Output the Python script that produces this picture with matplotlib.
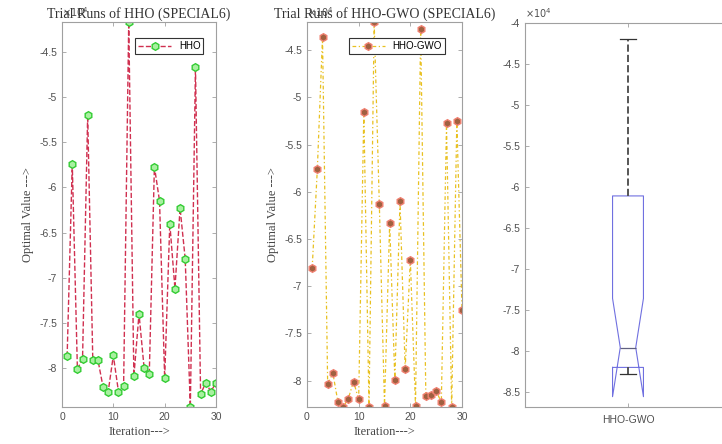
import matplotlib
matplotlib.use("Agg")
import matplotlib.pyplot as plt
from matplotlib.ticker import FuncFormatter
import numpy as np

# ---------------- data (values in units of 1e4, scaled below) ----------------
iterations = list(range(1, 31))
hho_vals = [-7.87, -5.74, -8.01, -7.90, -5.20, -7.91, -7.91, -8.21, -8.26, -7.86,
            -8.26, -8.20, -4.17, -8.09, -7.40, -8.00, -8.07, -5.77, -6.15, -8.11,
            -6.40, -7.12, -6.23, -6.79, -8.43, -4.67, -8.29, -8.16, -8.26, -8.16]
hhogwo_vals = [-6.81, -5.76, -4.36, -8.04, -7.92, -8.23, -8.28, -8.19, -8.01, -8.20,
               -5.15, -8.28, -4.20, -6.13, -8.27, -6.33, -7.99, -6.10, -7.88, -6.72,
               -8.27, -4.27, -8.16, -8.15, -8.11, -8.23, -5.27, -8.28, -5.25, -7.25]
scale = 1e4
hho = np.array(hho_vals) * scale
hhogwo = np.array(hhogwo_vals) * scale

titles = ["Trial Runs of HHO (SPECIAL6)", "Trial Runs of HHO-GWO (SPECIAL6)"]
legend_labels = ["HHO", "HHO-GWO"]
box_label = ["HHO-GWO"]
xticks = [0, 10, 20, 30]
yticks12 = [-4.5, -5, -5.5, -6, -6.5, -7, -7.5, -8]
yticks3 = [-4, -4.5, -5, -5.5, -6, -6.5, -7, -7.5, -8, -8.5]

W, H = 722, 444
fig = plt.figure(figsize=(W / 100, H / 100), dpi=100)

serif = ["Liberation Serif", "DejaVu Serif"]
sans = ["Liberation Sans", "DejaVu Sans"]
spine_c = "#a0a0a0"
tick_c = "#505050"

fmt = FuncFormatter(lambda v, pos: "%g" % round(v / scale, 4))


def px(l, r, t, b):
    return [l / W, (H - b) / H, (r - l) / W, (b - t) / H]


def style_axes(ax):
    for s in ax.spines.values():
        s.set_color(spine_c)
        s.set_linewidth(0.8)
    ax.tick_params(direction="in", length=3, width=0.6, colors=spine_c,
                   labelcolor=tick_c, labelsize=7.5, top=True, right=True)
    for lab in ax.get_xticklabels() + ax.get_yticklabels():
        lab.set_family(sans)
    ax.yaxis.set_major_formatter(fmt)
    ax.text(0.0, 1.008, r"$\times10^{4}$", transform=ax.transAxes, ha="left",
            va="bottom", fontsize=7, color=tick_c, family=sans)


# ---------- subplot 1 ----------
ax1 = fig.add_axes(px(62, 216, 22, 407))
ax1.plot(iterations, hho, linestyle="--", color="#d03050", linewidth=1.0,
         marker="h", markersize=5.5, markerfacecolor="#a8f0a0",
         markeredgecolor="#33cc33", markeredgewidth=1.0, label=legend_labels[0])
ax1.set_xlim(0, 30)
ax1.set_ylim(hho.min(), hho.max())
ax1.set_xticks(xticks)
ax1.set_yticks(np.array(yticks12) * scale)
style_axes(ax1)
ax1.set_title(titles[0], family=serif, fontsize=10, color="#333333", y=1.0, pad=3)
ax1.set_xlabel("Iteration--->", family=serif, fontsize=9, color="#444444", labelpad=3)
ax1.set_ylabel("Optimal Value --->", family=serif, fontsize=9, color="#444444", labelpad=4)
leg1 = ax1.legend(loc="upper right", prop={"family": sans, "size": 7},
                  fancybox=False, framealpha=1, edgecolor="#333333",
                  borderpad=0.3, handlelength=3.4, bbox_to_anchor=(0.95, 0.97))
leg1.get_frame().set_linewidth(0.8)

# ---------- subplot 2 ----------
ax2 = fig.add_axes(px(307, 462, 22, 407))
ax2.plot(iterations, hhogwo, linestyle=(0, (3, 2, 1, 2)), color="#e8c020", linewidth=0.9,
         marker="h", markersize=5.5, markerfacecolor="#a06040",
         markeredgecolor="#f08070", markeredgewidth=1.0, label=legend_labels[1])
ax2.set_xlim(0, 30)
ax2.set_ylim(hhogwo.min(), hhogwo.max())
ax2.set_xticks(xticks)
ax2.set_yticks(np.array(yticks12) * scale)
style_axes(ax2)
ax2.set_title(titles[1], family=serif, fontsize=10, color="#333333", y=1.0, pad=3)
ax2.set_xlabel("Iteration--->", family=serif, fontsize=9, color="#444444", labelpad=3)
ax2.set_ylabel("Optimal Value --->", family=serif, fontsize=9, color="#444444", labelpad=4)
leg2 = ax2.legend(loc="upper right", prop={"family": sans, "size": 7},
                  fancybox=False, framealpha=1, edgecolor="#333333",
                  borderpad=0.3, handlelength=3.4, bbox_to_anchor=(0.92, 0.97))
leg2.get_frame().set_linewidth(0.8)

# ---------- subplot 3 (boxplot) ----------
ax3 = fig.add_axes(px(525, 731, 23, 407))
ax3.boxplot([hhogwo], notch=True, widths=0.15, whis=(0, 100),
            tick_labels=box_label,
            boxprops=dict(color="#7070e0", linewidth=0.8),
            medianprops=dict(color="#606080", linewidth=0.9),
            whiskerprops=dict(color="#555555", linestyle="--", linewidth=1.4),
            capprops=dict(color="#333333", linewidth=0.9),
            flierprops=dict(marker="+", markeredgecolor="r"))
ax3.set_xlim(0.5, 1.5)
ax3.set_ylim(-8.68 * scale, -4.0 * scale)
ax3.set_yticks(np.array(yticks3) * scale)
style_axes(ax3)
ax3.tick_params(axis="x", labelsize=7.5, pad=6)

fig.savefig("out.png", dpi=100)
